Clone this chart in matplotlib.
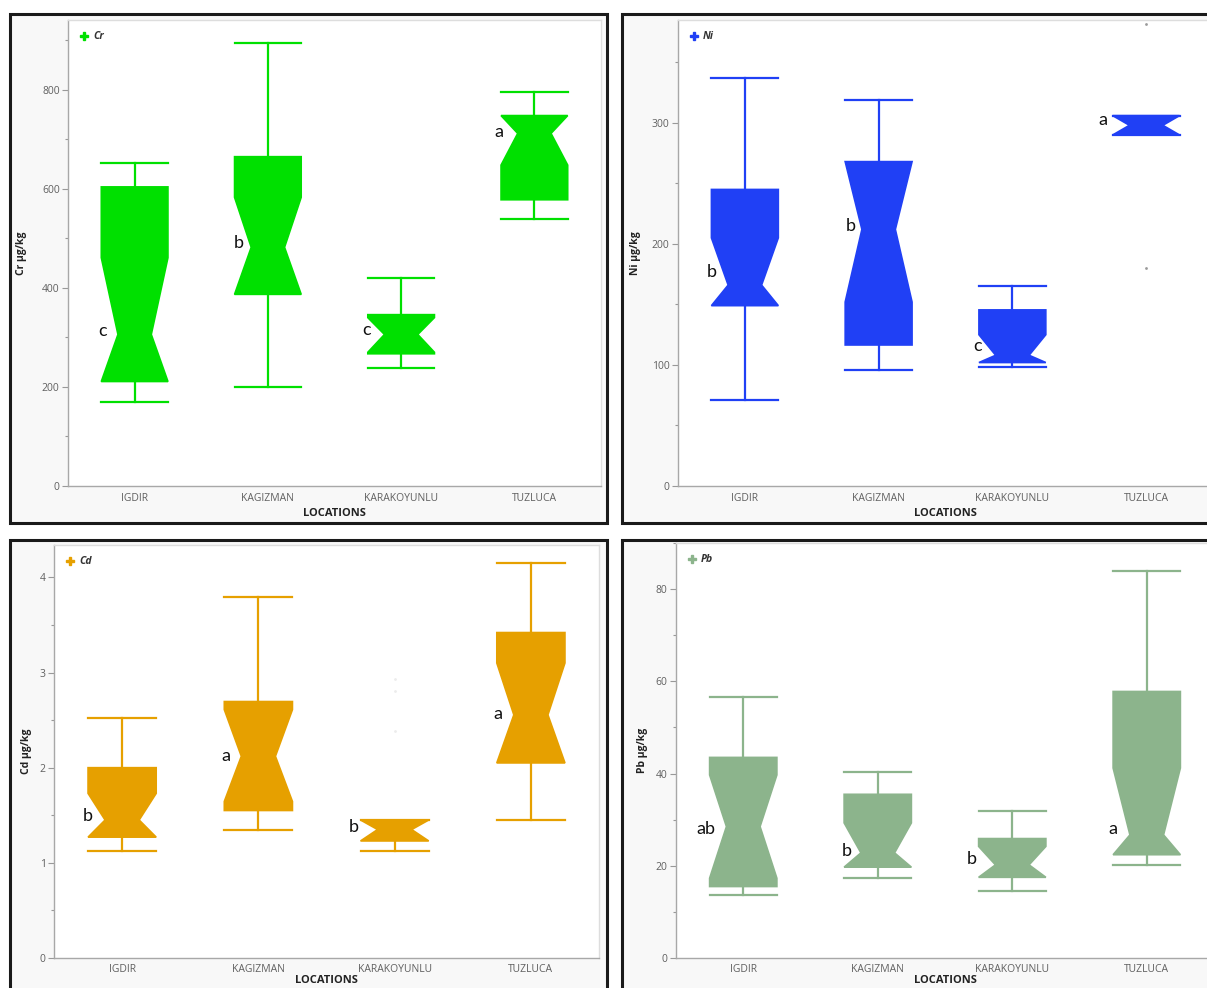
import numpy as np
import matplotlib
matplotlib.use('Agg')
import matplotlib.pyplot as plt
from matplotlib.patches import Rectangle
from matplotlib.ticker import MultipleLocator

plt.rcParams['font.family'] = ['Open Sans', 'DejaVu Sans']

# Locations on the x axis
locations = ['IGDIR', 'KAGIZMAN', 'KARAKOYUNLU', 'TUZLUCA']

# Box statistics (µg/kg)
# order of locations: IGDIR, KAGIZMAN, KARAKOYUNLU, TUZLUCA
cr_whislo = [170, 200, 238, 539]
cr_q1 = [211, 387, 267, 578]
cr_cilo = [211, 387, 270, 648]
cr_med = [306, 482, 306, 712]
cr_cihi = [461, 583, 340, 748]
cr_q3 = [604, 665, 346, 748]
cr_whishi = [653, 895, 421, 795]
cr_fliers = [[], [], [], []]
cr_letters = ['c', 'b', 'c', 'a']
cr_letter_y = [313, 491, 315, 715]

ni_whislo = [71, 96, 98.5, 290]
ni_q1 = [149, 116.5, 102, 290]
ni_cilo = [149, 152, 102, 290]
ni_med = [166, 212, 108, 298]
ni_cihi = [205, 268, 125, 306]
ni_q3 = [245, 268, 145.5, 306]
ni_whishi = [337, 318.5, 165, 306]
ni_fliers = [[], [], [], [382, 180]]
ni_letters = ['b', 'b', 'c', 'a']
ni_letter_y = [177, 215, 116, 302]

cd_whislo = [1.12, 1.35, 1.12, 1.45]
cd_q1 = [1.27, 1.55, 1.23, 2.05]
cd_cilo = [1.27, 1.645, 1.23, 2.05]
cd_med = [1.45, 2.12, 1.35, 2.555]
cd_cihi = [1.73, 2.61, 1.45, 3.10]
cd_q3 = [2.0, 2.695, 1.45, 3.42]
cd_whishi = [2.527, 3.797, 1.45, 4.147]
cd_fliers = [[], [], [2.93, 2.81, 2.39], []]
cd_letters = ['b', 'a', 'b', 'a']
cd_letter_y = [1.49, 2.12, 1.38, 2.56]

pb_whislo = [13.7, 17.3, 14.5, 20.2]
pb_q1 = [15.5, 19.7, 17.5, 22.4]
pb_cilo = [17.3, 19.7, 17.5, 22.4]
pb_med = [28.5, 22.8, 20.2, 26.7]
pb_cihi = [39.7, 29.3, 24.2, 41.2]
pb_q3 = [43.5, 35.5, 25.9, 57.8]
pb_whishi = [56.6, 40.3, 31.8, 84.0]
pb_fliers = [[], [], [], []]
pb_letters = ['ab', 'b', 'b', 'a']
pb_letter_y = [28.0, 23.3, 21.5, 28.0]


def make_stats(whislo, q1, cilo, med, cihi, q3, whishi, fliers):
    stats = []
    for i in range(len(med)):
        stats.append(dict(whislo=whislo[i], q1=q1[i], cilo=cilo[i], med=med[i],
                          cihi=cihi[i], q3=q3[i], whishi=whishi[i],
                          fliers=np.array(fliers[i], dtype=float)))
    return stats


panels = [
    dict(name='Cr', color='#00e000', ylim=941, major=200, minor=100,
         stats=make_stats(cr_whislo, cr_q1, cr_cilo, cr_med, cr_cihi, cr_q3, cr_whishi, cr_fliers),
         letters=cr_letters, letter_y=cr_letter_y, fliercolor='#999999',
         offs=[-0.24, -0.22, -0.26, -0.27], labx=-0.077, xpad=3, tpad=5,
         rect=[68, 20, 601, 486], frame=[10, 14, 607, 523]),
    dict(name='Ni', color='#2040f5', ylim=385, major=100, minor=50,
         stats=make_stats(ni_whislo, ni_q1, ni_cilo, ni_med, ni_cihi, ni_q3, ni_whishi, ni_fliers),
         letters=ni_letters, letter_y=ni_letter_y, fliercolor='#9a9a9a',
         offs=[-0.25, -0.21, -0.26, -0.32], labx=-0.069, xpad=3, tpad=5,
         rect=[678, 20, 1213, 486], frame=[622, 14, 1222, 523]),
    dict(name='Cd', color='#e6a000', ylim=4.34, major=1, minor=0.5,
         stats=make_stats(cd_whislo, cd_q1, cd_cilo, cd_med, cd_cihi, cd_q3, cd_whishi, cd_fliers),
         letters=cd_letters, letter_y=cd_letter_y, fliercolor='#ececec',
         offs=[-0.25, -0.24, -0.30, -0.24], labx=-0.040, xpad=0, tpad=4,
         rect=[54, 545, 599, 958], frame=[10, 540, 607, 998]),
    dict(name='Pb', color='#8cb48c', ylim=90, major=20, minor=10,
         stats=make_stats(pb_whislo, pb_q1, pb_cilo, pb_med, pb_cihi, pb_q3, pb_whishi, pb_fliers),
         letters=pb_letters, letter_y=pb_letter_y, fliercolor='#999999',
         offs=[-0.28, -0.23, -0.30, -0.25], labx=-0.052, xpad=0, tpad=4,
         rect=[676, 543, 1214, 958], frame=[622, 540, 1222, 998]),
]

W, H = 1207, 988
fig = plt.figure(figsize=(W / 100, H / 100), dpi=100)
fig.patch.set_facecolor('white')

for p in panels:
    fx0, fy0, fx1, fy1 = p['frame']
    fig.add_artist(Rectangle((fx0 / W, 1 - fy1 / H), (fx1 - fx0) / W, (fy1 - fy0) / H,
                             transform=fig.transFigure, facecolor='#f8f8f8',
                             edgecolor='#1a1a1a', lw=2.2, zorder=0))

    x0, y0, x1, y1 = p['rect']
    ax = fig.add_axes([x0 / W, 1 - y1 / H, (x1 - x0) / W, (y1 - y0) / H])
    ax.set_facecolor('white')
    c = p['color']
    pos = np.arange(len(locations))
    ax.bxp(p['stats'], positions=pos, widths=0.5, capwidths=0.5,
           shownotches=True, patch_artist=True, showfliers=True,
           boxprops=dict(facecolor=c, edgecolor=c, lw=1.2),
           whiskerprops=dict(color=c, lw=1.6),
           capprops=dict(color=c, lw=1.6),
           medianprops=dict(color=c, lw=0),
           flierprops=dict(marker='o', markersize=2, markerfacecolor=p['fliercolor'],
                           markeredgecolor='none'))
    ax.plot([], [], marker='P', color=c, ls='none', markersize=6, label=p['name'])
    leg = ax.legend(loc='upper left', frameon=False, handlelength=0.8, handletextpad=0.5,
                    borderaxespad=0.6, borderpad=0.5,
                    prop=dict(size=7.5, style='italic', weight='bold'))
    for t in leg.get_texts():
        t.set_color('#333333')

    for i, lab in enumerate(p['letters']):
        ax.text(pos[i] + p['offs'][i], p['letter_y'][i], lab, ha='center', va='center',
                fontsize=13, family=['Lato', 'DejaVu Sans'], color='#111111')

    ax.set_xlim(-0.5, 3.5)
    ax.set_ylim(0, p['ylim'])
    ax.set_xticks(pos)
    ax.set_xticklabels(locations)
    ax.yaxis.set_major_locator(MultipleLocator(p['major']))
    ax.yaxis.set_minor_locator(MultipleLocator(p['minor']))
    ax.tick_params(axis='x', length=0, pad=p['tpad'], labelsize=7.5, labelcolor='#606060')
    ax.tick_params(axis='y', which='major', length=4, width=0.8, color='#999999',
                   labelsize=7.5, labelcolor='#606060', pad=2)
    ax.tick_params(axis='y', which='minor', length=2.5, width=0.8, color='#999999')
    for s in ['left', 'bottom']:
        ax.spines[s].set_color('#a8a8a8')
        ax.spines[s].set_linewidth(1.0)
    for s in ['top', 'right']:
        ax.spines[s].set_color('#dddddd')
        ax.spines[s].set_linewidth(1.0)
    ax.set_xlabel('LOCATIONS', fontsize=8, fontweight='bold', color='#222222',
                  labelpad=p['xpad'])
    ax.set_ylabel(p['name'] + ' µg/kg', fontsize=7.5, fontweight='bold', color='#222222')
    ax.yaxis.set_label_coords(p['labx'], 0.5)

fig.savefig('out.png', dpi=100)
